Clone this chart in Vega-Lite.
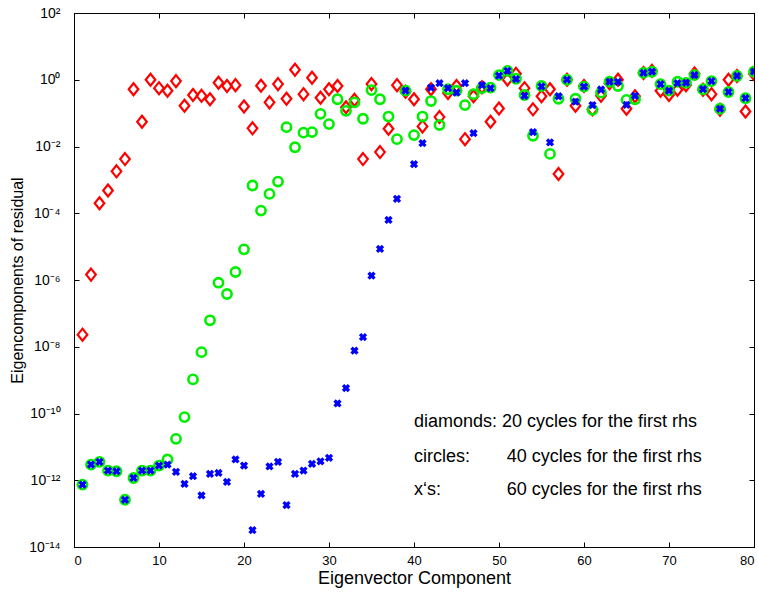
{
  "$schema": "https://vega.github.io/schema/vega-lite/v6.json",
  "width": 680,
  "height": 534,
  "autosize": "none",
  "padding": {"left": 74, "top": 13, "right": 4, "bottom": 47},
  "background": "white",
  "config": {
    "view": {"stroke": "black", "strokeWidth": 1},
    "axis": {
      "grid": false,
      "domainColor": "black",
      "tickColor": "black",
      "labelColor": "black",
      "titleColor": "black",
      "labelFont": "Liberation Sans",
      "titleFont": "Liberation Sans",
      "labelFontSize": 13,
      "titleFontSize": 16,
      "titleFontWeight": "normal",
      "tickSize": -5,
      "labelPadding": 12
    }
  },
  "datasets": {
    "diamonds": [
      {"n":1,"v":2.3e-8},{"n":2,"v":1.45e-6},{"n":3,"v":2.0e-4},{"n":4,"v":4.8e-4},{"n":5,"v":1.8e-3},
      {"n":6,"v":4.2e-3},{"n":7,"v":0.52},{"n":8,"v":0.055},{"n":9,"v":1.0},{"n":10,"v":0.56},
      {"n":11,"v":0.47},{"n":12,"v":0.91},{"n":13,"v":0.166},{"n":14,"v":0.35},{"n":15,"v":0.33},
      {"n":16,"v":0.26},{"n":17,"v":0.81},{"n":18,"v":0.65},{"n":19,"v":0.69},{"n":20,"v":0.158},
      {"n":21,"v":0.035},{"n":22,"v":0.66},{"n":23,"v":0.21},{"n":24,"v":0.74},{"n":25,"v":0.27},
      {"n":26,"v":2.0},{"n":27,"v":0.37},{"n":28,"v":1.15},{"n":29,"v":0.29},{"n":30,"v":0.52},
      {"n":31,"v":0.65},{"n":32,"v":0.15},{"n":33,"v":0.25},{"n":34,"v":4.2e-3},{"n":35,"v":0.74},
      {"n":36,"v":6.8e-3},{"n":37,"v":0.034},{"n":38,"v":0.69},{"n":39,"v":0.44},{"n":40,"v":0.26},
      {"n":41,"v":0.04},{"n":42,"v":0.52},{"n":43,"v":0.076},{"n":44,"v":0.4},{"n":45,"v":0.65},
      {"n":46,"v":0.0166},{"n":47,"v":0.32},{"n":48,"v":0.6},{"n":49,"v":0.055},{"n":50,"v":0.138},
      {"n":51,"v":1.02},{"n":52,"v":1.5},{"n":53,"v":0.56},{"n":54,"v":0.13},{"n":55,"v":0.32},
      {"n":56,"v":0.52},{"n":57,"v":1.5e-3},{"n":58,"v":1.0},{"n":59,"v":0.166},{"n":60,"v":0.65},
      {"n":61,"v":0.13},{"n":62,"v":0.33},{"n":63,"v":0.79},{"n":64,"v":1.0},{"n":65,"v":0.135},
      {"n":66,"v":0.32},{"n":67,"v":1.6},{"n":68,"v":1.85},{"n":69,"v":0.47},{"n":70,"v":0.35},
      {"n":71,"v":0.5},{"n":72,"v":0.69},{"n":73,"v":1.55},{"n":74,"v":0.5},{"n":75,"v":0.37},
      {"n":76,"v":0.126},{"n":77,"v":1.0},{"n":78,"v":1.3},{"n":79,"v":0.112},{"n":80,"v":1.48}
    ],
    "circles": [
      {"n":1,"v":7.4e-13},{"n":2,"v":2.95e-12},{"n":3,"v":3.55e-12},{"n":4,"v":1.95e-12},{"n":5,"v":1.86e-12},
      {"n":6,"v":2.6e-13},{"n":7,"v":1.17e-12},{"n":8,"v":1.95e-12},{"n":9,"v":1.95e-12},{"n":10,"v":2.75e-12},
      {"n":11,"v":4.2e-12},{"n":12,"v":1.74e-11},{"n":13,"v":7.8e-11},{"n":14,"v":1.05e-9},{"n":15,"v":6.9e-9},
      {"n":16,"v":6.2e-8},{"n":17,"v":8.3e-7},{"n":18,"v":3.8e-7},{"n":19,"v":1.74e-6},{"n":20,"v":8.3e-6},
      {"n":21,"v":6.8e-4},{"n":22,"v":1.2e-4},{"n":23,"v":3.8e-4},{"n":24,"v":8.9e-4},{"n":25,"v":0.038},
      {"n":26,"v":9.5e-3},{"n":27,"v":0.026},{"n":28,"v":0.027},{"n":29,"v":0.095},{"n":30,"v":0.047},
      {"n":31,"v":0.26},{"n":32,"v":0.117},{"n":33,"v":0.21},{"n":34,"v":0.068},{"n":35,"v":0.49},
      {"n":36,"v":0.26},{"n":37,"v":0.079},{"n":38,"v":0.0166},{"n":39,"v":0.47},{"n":40,"v":0.022},
      {"n":41,"v":0.079},{"n":42,"v":0.23},{"n":43,"v":0.044},{"n":44,"v":0.52},{"n":45,"v":0.47},
      {"n":46,"v":0.174},{"n":47,"v":0.37},{"n":48,"v":0.56},{"n":49,"v":0.58},{"n":50,"v":1.38},
      {"n":51,"v":1.85},{"n":52,"v":1.07},{"n":53,"v":0.35},{"n":54,"v":0.021},{"n":55,"v":0.65},
      {"n":56,"v":6.0e-3},{"n":57,"v":0.27},{"n":58,"v":1.0},{"n":59,"v":0.27},{"n":60,"v":0.62},
      {"n":61,"v":0.126},{"n":62,"v":0.41},{"n":63,"v":0.87},{"n":64,"v":0.65},{"n":65,"v":0.25},
      {"n":66,"v":0.26},{"n":67,"v":1.6},{"n":68,"v":1.74},{"n":69,"v":0.74},{"n":70,"v":0.47},
      {"n":71,"v":0.87},{"n":72,"v":0.81},{"n":73,"v":1.38},{"n":74,"v":0.52},{"n":75,"v":0.91},
      {"n":76,"v":0.135},{"n":77,"v":0.43},{"n":78,"v":1.3},{"n":79,"v":0.28},{"n":80,"v":1.74}
    ],
    "xs": [
      {"n":1,"v":7.4e-13},{"n":2,"v":2.95e-12},{"n":3,"v":3.55e-12},{"n":4,"v":1.95e-12},{"n":5,"v":1.86e-12},
      {"n":6,"v":2.6e-13},{"n":7,"v":1.17e-12},{"n":8,"v":1.95e-12},{"n":9,"v":1.95e-12},{"n":10,"v":2.75e-12},
      {"n":11,"v":2.95e-12},{"n":12,"v":1.78e-12},{"n":13,"v":7.8e-13},{"n":14,"v":1.32e-12},{"n":15,"v":3.5e-13},
      {"n":16,"v":1.55e-12},{"n":17,"v":1.66e-12},{"n":18,"v":8.9e-13},{"n":19,"v":4.2e-12},{"n":20,"v":2.75e-12},
      {"n":21,"v":3.2e-14},{"n":22,"v":3.9e-13},{"n":23,"v":2.6e-12},{"n":24,"v":3.55e-12},{"n":25,"v":1.8e-13},
      {"n":26,"v":1.55e-12},{"n":27,"v":1.95e-12},{"n":28,"v":3.1e-12},{"n":29,"v":3.7e-12},{"n":30,"v":4.7e-12},
      {"n":31,"v":2.0e-10},{"n":32,"v":5.8e-10},{"n":33,"v":7.6e-9},{"n":34,"v":1.95e-8},{"n":35,"v":1.35e-6},
      {"n":36,"v":8.5e-6},{"n":37,"v":6.3e-5},{"n":38,"v":2.7e-4},{"n":39,"v":0.47},{"n":40,"v":2.95e-3},
      {"n":41,"v":0.0126},{"n":42,"v":0.58},{"n":43,"v":0.79},{"n":44,"v":0.56},{"n":45,"v":0.41},
      {"n":46,"v":0.79},{"n":47,"v":0.025},{"n":48,"v":0.69},{"n":49,"v":0.56},{"n":50,"v":1.32},
      {"n":51,"v":1.85},{"n":52,"v":1.05},{"n":53,"v":0.33},{"n":54,"v":0.027},{"n":55,"v":0.63},
      {"n":56,"v":0.0132},{"n":57,"v":0.32},{"n":58,"v":1.0},{"n":59,"v":0.22},{"n":60,"v":0.62},
      {"n":61,"v":0.174},{"n":62,"v":0.51},{"n":63,"v":0.87},{"n":64,"v":0.87},{"n":65,"v":0.178},
      {"n":66,"v":0.33},{"n":67,"v":1.6},{"n":68,"v":1.74},{"n":69,"v":0.74},{"n":70,"v":0.47},
      {"n":71,"v":0.79},{"n":72,"v":0.81},{"n":73,"v":1.38},{"n":74,"v":0.52},{"n":75,"v":0.91},
      {"n":76,"v":0.135},{"n":77,"v":0.43},{"n":78,"v":1.3},{"n":79,"v":0.28},{"n":80,"v":1.74}
    ],
    "notes": [
      {"n":40,"v":5.6e-11,"t":"diamonds: 20 cycles for the first rhs"},
      {"n":40,"v":5.1e-12,"t":"circles:"},
      {"n":50.9,"v":5.1e-12,"t":"40 cycles for the first rhs"},
      {"n":40,"v":5.2e-13,"t":"x‘s:"},
      {"n":50.9,"v":5.2e-13,"t":"60 cycles for the first rhs"}
    ]
  },
  "layer": [
    {
      "data": {"name": "diamonds"},
      "mark": {"type": "point", "shape": "M0,-1L0.8,0L0,1L-0.8,0Z", "size": 144, "filled": false, "stroke": "#ff0000", "strokeWidth": 2.2, "opacity": 1, "clip": true},
      "encoding": {
        "x": {"field": "n", "type": "quantitative", "scale": {"domain": [0, 80], "nice": false, "zero": false},
              "axis": {"orient": "bottom", "values": [0,10,20,30,40,50,60,70,80], "title": "Eigenvector Component", "titlePadding": 2, "titleFontSize": 18}},
        "y": {"field": "v", "type": "quantitative", "scale": {"type": "log", "domain": [1e-14, 100], "nice": false},
              "axis": {"orient": "left", "values": [100,1,0.01,1e-4,1e-6,1e-8,1e-10,1e-12,1e-14], "title": "Eigencomponents of residual", "titlePadding": 3,
                       "labelFontSize": 14, "labelPadding": 19,
                       "labelExpr": "'10' + replace(replace(replace(replace(replace(replace(replace(toString(round(log(datum.value)/LN10)),'-','⁻'),'0','⁰'),'1','¹'),'2','²'),'4','⁴'),'6','⁶'),'8','⁸')"}}
      }
    },
    {
      "data": {"name": "circles"},
      "mark": {"type": "point", "shape": "circle", "size": 85, "filled": false, "stroke": "#00ee00", "strokeWidth": 2.6, "opacity": 1, "clip": true},
      "encoding": {
        "x": {"field": "n", "type": "quantitative", "axis": null},
        "y": {"field": "v", "type": "quantitative", "axis": null}
      }
    },
    {
      "data": {"name": "xs"},
      "mark": {"type": "point", "shape": "cross", "angle": 45, "size": 70, "filled": true, "color": "#0000ff", "opacity": 1, "clip": true},
      "encoding": {
        "x": {"field": "n", "type": "quantitative", "axis": null},
        "y": {"field": "v", "type": "quantitative", "axis": null}
      }
    },
    {
      "data": {"name": "notes"},
      "mark": {"type": "text", "align": "left", "baseline": "middle", "font": "Liberation Sans", "fontSize": 18, "color": "black"},
      "encoding": {
        "x": {"field": "n", "type": "quantitative", "axis": {"orient": "top", "values": [0,10,20,30,40,50,60,70,80], "labels": false, "title": null}},
        "y": {"field": "v", "type": "quantitative", "axis": {"orient": "right", "values": [100,1,0.01,1e-4,1e-6,1e-8,1e-10,1e-12,1e-14], "labels": false, "title": null}},
        "text": {"field": "t", "type": "nominal"}
      }
    }
  ],
  "resolve": {"axis": {"x": "independent", "y": "independent"}}
}
